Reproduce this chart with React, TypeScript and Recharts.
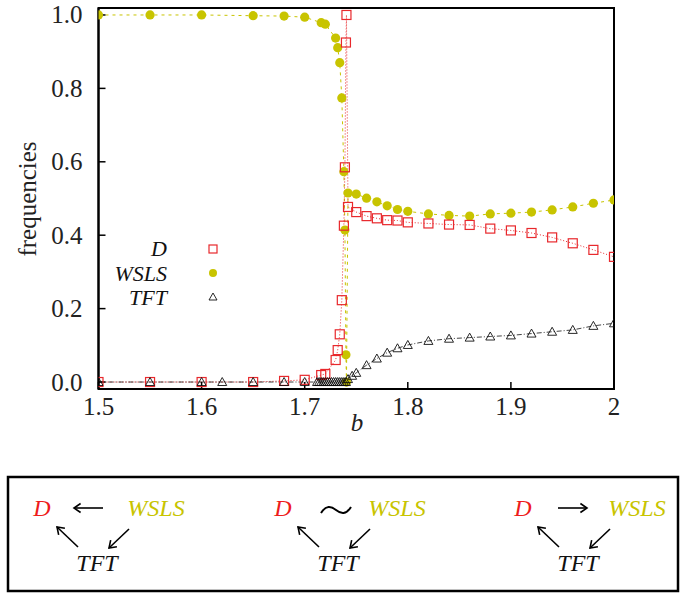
import { Line, LineChart, ReferenceArea, XAxis, YAxis } from "recharts";

// b values and frequencies
const D_B = [1.5, 1.55, 1.6, 1.65, 1.68, 1.7, 1.716, 1.72, 1.73, 1.732, 1.734, 1.736, 1.738, 1.739, 1.74, 1.7405, 1.742, 1.75, 1.76, 1.77, 1.78, 1.79, 1.8, 1.82, 1.84, 1.86, 1.88, 1.9, 1.92, 1.94, 1.96, 1.98, 2.0];
const D_F = [0, 0, 0, 0, 0.003, 0.006, 0.019, 0.022, 0.06, 0.087, 0.13, 0.223, 0.426, 0.585, 0.925, 1.0, 0.477, 0.463, 0.452, 0.446, 0.441, 0.44, 0.435, 0.432, 0.429, 0.428, 0.418, 0.413, 0.406, 0.394, 0.378, 0.36, 0.341];

const W_B = [1.5, 1.55, 1.6, 1.65, 1.68, 1.7, 1.716, 1.72, 1.73, 1.732, 1.734, 1.736, 1.738, 1.739, 1.74, 1.7405, 1.742, 1.75, 1.76, 1.77, 1.78, 1.79, 1.8, 1.82, 1.84, 1.86, 1.88, 1.9, 1.92, 1.94, 1.96, 1.98, 2.0];
const W_F = [1.0, 1.0, 1.0, 0.998, 0.997, 0.994, 0.979, 0.975, 0.937, 0.911, 0.87, 0.774, 0.573, 0.414, 0.074, 0.0, 0.515, 0.512, 0.501, 0.491, 0.48, 0.47, 0.465, 0.458, 0.454, 0.452, 0.458, 0.46, 0.463, 0.469, 0.477, 0.487, 0.496];

const T_B = [1.5, 1.55, 1.6, 1.62, 1.65, 1.68, 1.7, 1.712, 1.714, 1.716, 1.718, 1.72, 1.722, 1.724, 1.726, 1.728, 1.73, 1.732, 1.734, 1.736, 1.738, 1.74, 1.742, 1.746, 1.75, 1.76, 1.77, 1.78, 1.79, 1.8, 1.82, 1.84, 1.86, 1.88, 1.9, 1.92, 1.94, 1.96, 1.98, 2.0];
const T_F = [0, 0, 0, 0, 0, 0, 0, 0, 0, 0, 0, 0, 0, 0, 0, 0, 0, 0, 0, 0, 0, 0, 0.008, 0.017, 0.025, 0.046, 0.064, 0.08, 0.092, 0.101, 0.112, 0.118, 0.121, 0.124, 0.127, 0.132, 0.137, 0.142, 0.153, 0.16];

const X_TICKS = [1.5, 1.6, 1.7, 1.8, 1.9, 2];
const Y_TICKS = [0, 0.2, 0.4, 0.6, 0.8, 1.0];

const RED = "#e8282c";
const YEL = "#c8c400";
const FONT = "Liberation Serif, Times New Roman, Times, serif";
const Y_DOMAIN = [-0.019, 1.019];

const pts = (bs: number[], fs: number[]) => bs.map((b, i) => ({ b, f: fs[i] }));
const dData = pts(D_B, D_F);
const wData = pts(W_B, W_F);
const tData = pts(T_B, T_F);

function Square(p: any) {
  if (p.cx == null || p.cy == null) return null;
  return <rect key={`d${p.index}`} x={p.cx - 4.5} y={p.cy - 4.5} width={9} height={9} fill="none" stroke={RED} strokeWidth={1.2} />;
}
function Dot(p: any) {
  if (p.cx == null || p.cy == null) return null;
  return <circle key={`w${p.index}`} cx={p.cx} cy={p.cy} r={4.6} fill={YEL} stroke="none" />;
}
function Tri(p: any) {
  if (p.cx == null || p.cy == null) return null;
  const { cx, cy } = p;
  return <path key={`t${p.index}`} d={`M${cx},${cy - 4.5} L${cx + 4.5},${cy + 3.5} L${cx - 4.5},${cy + 3.5} Z`} fill="none" stroke="#111" strokeWidth={0.9} />;
}

function XTick(p: any) {
  const v = p.payload.value as number;
  return (
    <text x={p.x} y={p.y} dy="0.72em" textAnchor="middle" fontSize={25} fill="#222" fontFamily={FONT}>
      {v === 2 ? "2" : v.toFixed(1)}
    </text>
  );
}
function YTick(p: any) {
  const v = p.payload.value as number;
  return (
    <text x={p.x} y={p.y} dy="0.34em" textAnchor="end" fontSize={25} fill="#222" fontFamily={FONT}>
      {v.toFixed(1)}
    </text>
  );
}

const axisLine = { stroke: "#000", strokeWidth: 2 };
const tickLine = { stroke: "#000", strokeWidth: 1.5 };

function Triad({ x, rel }: { x: number; rel: "left" | "tilde" | "right" }) {
  // x is the centre of the "D" label of this diagram
  const y = 508;
  const it = { fontFamily: FONT, fontStyle: "italic" as const, fontSize: 24 };
  const head = (x1: number, y1: number, x2: number, y2: number) => {
    const a = Math.atan2(y2 - y1, x2 - x1);
    const l = 8;
    return `M${x2 - l * Math.cos(a - 0.6)},${y2 - l * Math.sin(a - 0.6)} L${x2},${y2} L${x2 - l * Math.cos(a + 0.6)},${y2 - l * Math.sin(a + 0.6)}`;
  };
  const arrow = (x1: number, y1: number, x2: number, y2: number) => (
    <g stroke="#000" strokeWidth={1.6} fill="none">
      <line x1={x1} y1={y1} x2={x2} y2={y2} />
      <path d={head(x1, y1, x2, y2)} />
    </g>
  );
  return (
    <g>
      <text x={x} y={y + 8} textAnchor="middle" fill="#ee1c1c" {...it}>D</text>
      <text x={x + 114} y={y + 8} textAnchor="middle" fill={YEL} {...it}>WSLS</text>
      <text x={x + 55} y={y + 63} textAnchor="middle" fill="#111" {...it}>TFT</text>
      {rel === "left" && arrow(x + 61, y, x + 32, y)}
      {rel === "right" && arrow(x + 35, y, x + 64, y)}
      {rel === "tilde" && (
        <path d={`M${x + 38},${y + 5} C${x + 43},${y - 3} ${x + 48},${y - 2} ${x + 53},${y + 2} S${x + 63},${y + 7} ${x + 68},${y - 1}`} stroke="#000" strokeWidth={2} fill="none" />
      )}
      {arrow(x + 36, y + 39, x + 15, y + 19)}
      {arrow(x + 87, y + 21, x + 67, y + 40)}
    </g>
  );
}

export default function App() {
  return (
    <div style={{ position: "absolute", left: 0, top: 0, width: 685, height: 599, background: "#fff", fontFamily: FONT }}>
      <div style={{ position: "absolute", left: 0, top: 0 }}>
        <LineChart width={685} height={440} margin={{ top: 8, right: 71, bottom: 11, left: 38.5 }}>
          <XAxis xAxisId="b" dataKey="b" type="number" domain={[1.5, 2]} allowDataOverflow ticks={X_TICKS}
            height={40} tickSize={-7} tickMargin={15} axisLine={axisLine} tickLine={tickLine} tick={XTick} />
          <XAxis xAxisId="top" orientation="top" dataKey="b" type="number" domain={[1.5, 2]} allowDataOverflow ticks={X_TICKS}
            height={0} tickSize={-7} axisLine={axisLine} tickLine={tickLine} tick={false} />
          <YAxis yAxisId="f" type="number" domain={Y_DOMAIN} allowDataOverflow ticks={Y_TICKS}
            width={60} tickSize={-7} tickMargin={23} axisLine={axisLine} tickLine={tickLine} tick={YTick} />
          <YAxis yAxisId="right" orientation="right" type="number" domain={Y_DOMAIN} allowDataOverflow ticks={Y_TICKS}
            width={0} tickSize={-7} axisLine={axisLine} tickLine={tickLine} tick={false} />
          <ReferenceArea xAxisId="b" yAxisId="f" x1={1.5} x2={2} y1={Y_DOMAIN[0]} y2={Y_DOMAIN[1]} fill="none" fillOpacity={0} stroke="#000" strokeWidth={2} ifOverflow="visible" />
          <Line xAxisId="top" yAxisId="right" data={wData} dataKey="f" stroke="none" dot={false} isAnimationActive={false} legendType="none" />
          <Line xAxisId="b" yAxisId="f" data={wData} dataKey="f" type="linear" stroke={YEL} strokeWidth={1} strokeDasharray="3 4" dot={Dot} isAnimationActive={false} />
          <Line xAxisId="b" yAxisId="f" data={dData} dataKey="f" type="linear" stroke={RED} strokeWidth={1} strokeDasharray="1 2" dot={Square} isAnimationActive={false} />
          <Line xAxisId="b" yAxisId="f" data={tData} dataKey="f" type="linear" stroke="#111" strokeWidth={0.8} strokeDasharray="5 2 1 2" dot={Tri} isAnimationActive={false} />
        </LineChart>
      </div>
      <svg width={685} height={599} style={{ position: "absolute", left: 0, top: 0, pointerEvents: "none" }}>
        <text x={27} y={199} transform="rotate(-90 27 199)" textAnchor="middle" dominantBaseline="central" fontSize={25} fill="#222" fontFamily={FONT}>frequencies</text>
        <text x={357} y={431} textAnchor="middle" fontSize={25} fontStyle="italic" fill="#222" fontFamily={FONT}>b</text>

        <g fontFamily={FONT} fontStyle="italic" fontSize={22} fill="#111" textAnchor="end">
          <text x={167} y={256}>D</text>
          <text x={167} y={281}>WSLS</text>
          <text x={167} y={305}>TFT</text>
        </g>
        <rect x={209} y={245} width={8} height={8} fill="none" stroke={RED} strokeWidth={1.2} />
        <circle cx={213} cy={273} r={4} fill={YEL} />
        <path d="M213,293 L217,300 L209,300 Z" fill="none" stroke="#111" strokeWidth={0.9} />

        <rect x={8} y={477} width={670} height={114} fill="none" stroke="#000" strokeWidth={2.5} />
        <Triad x={42} rel="left" />
        <Triad x={283} rel="tilde" />
        <Triad x={523} rel="right" />
      </svg>
    </div>
  );
}
